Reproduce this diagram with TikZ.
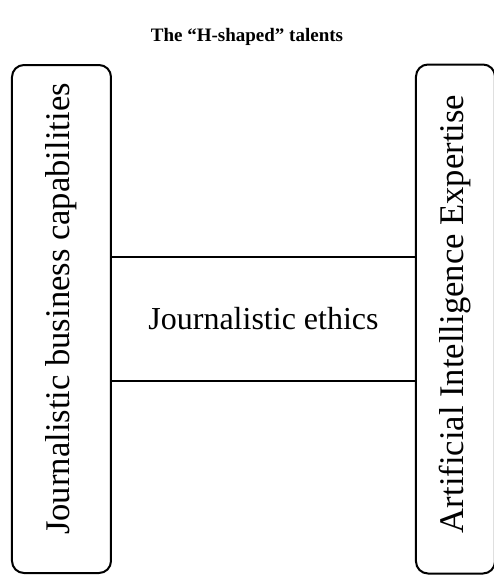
\documentclass[tikz,border=0pt]{standalone}
\usepackage{fontspec}
\setmainfont{Liberation Serif}
\usetikzlibrary{positioning}

\begin{document}
\begin{tikzpicture}[x=0.5pt,y=-0.5pt,node distance=101pt,on grid,
  bar/.style={draw,line width=1pt,rounded corners=6pt,rotate=90,inner sep=0pt,font=\fontsize{17.3}{20}\selectfont},
  beam/.style={draw,line width=0.65pt,minimum width=152.5pt,minimum height=62pt,font=\fontsize{16}{19}\selectfont}]
\useasboundingbox (0,0) rectangle (494,575);
\clip (0,0) rectangle (494,575);
\node[beam] (ethics) at (263.5,319) {Journalistic ethics};
\node[bar,minimum width=254pt,minimum height=49.5pt] (biz) [left=of ethics] {\hspace*{10pt}Journalistic business capabilities};
\node[bar,minimum width=254.5pt,minimum height=39.5pt] (ai) [right=96pt of ethics] {\hspace*{5pt}Artificial Intelligence Expertise};
\node[font=\bfseries\fontsize{9.5}{12}\selectfont,anchor=base] (title) at (247,41) {The “H-shaped” talents};
\end{tikzpicture}
\end{document}
